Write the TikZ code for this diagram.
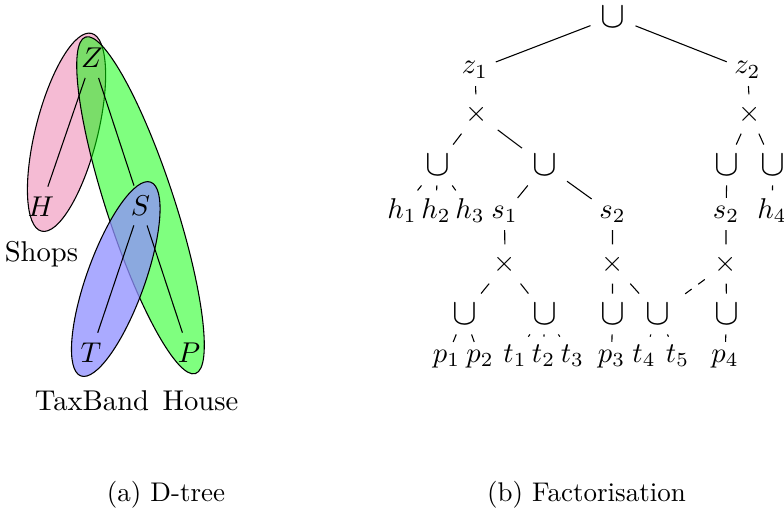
\documentclass[tikz,border=0pt]{standalone}
\usepackage{amsmath}
\usepackage{amssymb}
\usepackage{graphicx}
\usepackage{tikz}
\usetikzlibrary{calc,shapes.geometric,backgrounds}
\definecolor{shopspink}{RGB}{245,187,212}
\definecolor{taxblue}{RGB}{143,143,255}
\newcommand{\ucup}{\scalebox{1.3}{$\cup$}}

\begin{document}
\begin{tikzpicture}[
  every node/.style={scale=1.06},
  lbl/.style={anchor=base, inner sep=2.5pt},
  set/.style={draw, ellipse, inner sep=0pt},
  optional/.style={dashed}
]
\useasboundingbox (0,0) rectangle (10.205,-6.678);

% (a) d-tree
\node (Z) at (1.198,-0.755) {$Z$};
\node (H) at (0.534,-2.688) {$H$};
\node (S) at (1.829,-2.675) {$S$};
\node (T) at (1.185,-4.589) {$T$};
\node (P) at (2.460,-4.589) {$P$};
\node[lbl] (shopslbl) at (0.540,-3.410) {Shops};
\node[lbl] (taxlbl) at (1.198,-5.337) {TaxBand};
\node[lbl] (houselbl) at (2.610,-5.337) {House};
\begin{scope}[on background layer, every node/.style={}]
\node[set, fill=shopspink, minimum width=2.655cm, minimum height=0.807cm, rotate=75.8] (shops) at ($(Z)!0.5!(H)$) {};
\node[set, fill=green, fill opacity=0.5, minimum width=4.608cm, minimum height=0.885cm, rotate=-71.9] (house) at ($(Z)!0.5!(P)$) {};
\node[set, fill=taxblue, fill opacity=0.76, minimum width=2.681cm, minimum height=0.755cm, rotate=70.2] (tax) at ($(S)!0.5!(T)$) {};
\end{scope}
\draw (Z) -- (H);
\draw (Z) -- (S);
\draw (S) -- (T);
\draw (S) -- (P);

% (b) factorisation
\node (root) at (7.979,-0.221) {\ucup};
\node[lbl] (z1) at (6.183,-0.963) {$z_1$};
\node[lbl] (z2) at (9.730,-0.963) {$z_2$};
\node (xa) at (6.203,-1.484) {$\times$};
\node (xb) at (9.763,-1.484) {$\times$};
\node (ua) at (5.695,-2.148) {\ucup};
\node (ub) at (7.088,-2.148) {\ucup};
\node (uc) at (9.463,-2.148) {\ucup};
\node (ud) at (10.062,-2.148) {\ucup};
\node[lbl] (h1) at (5.233,-2.838) {$h_1$};
\node[lbl] (h2) at (5.675,-2.838) {$h_2$};
\node[lbl] (h3) at (6.118,-2.838) {$h_3$};
\node[lbl] (s1) at (6.567,-2.838) {$s_1$};
\node[lbl] (s2) at (7.973,-2.838) {$s_2$};
\node[lbl] (s2b) at (9.450,-2.838) {$s_2$};
\node[lbl] (h4) at (10.049,-2.838) {$h_4$};
\node (xc) at (6.574,-3.436) {$\times$};
\node (xd) at (7.973,-3.436) {$\times$};
\node (xe) at (9.450,-3.436) {$\times$};
\node (ue) at (6.046,-4.087) {\ucup};
\node (uf) at (7.088,-4.087) {\ucup};
\node (ug) at (7.973,-4.087) {\ucup};
\node (uh) at (8.559,-4.087) {\ucup};
\node (ui) at (9.457,-4.087) {\ucup};
\node[lbl] (p1) at (5.812,-4.712) {$p_1$};
\node[lbl] (p2) at (6.248,-4.712) {$p_2$};
\node[lbl] (t1) at (6.704,-4.712) {$t_1$};
\node[lbl] (t2) at (7.075,-4.712) {$t_2$};
\node[lbl] (t3) at (7.452,-4.712) {$t_3$};
\node[lbl] (p3) at (7.960,-4.712) {$p_3$};
\node[lbl] (t4) at (8.383,-4.712) {$t_4$};
\node[lbl] (t5) at (8.819,-4.712) {$t_5$};
\node[lbl] (p4) at (9.437,-4.712) {$p_4$};
\draw (root) -- (z1);
\draw (root) -- (z2);
\draw (z1) -- (xa);
\draw (z2) -- (xb);
\draw (xa) -- (ua);
\draw (xa) -- (ub);
\draw (xb) -- (uc);
\draw (xb) -- (ud);
\draw (ua) -- (h1);
\draw (ua) -- (h2);
\draw (ua) -- (h3);
\draw (ub) -- (s1);
\draw (ub) -- (s2);
\draw (uc) -- (s2b);
\draw (ud) -- (h4);
\draw (s1) -- (xc);
\draw (s2) -- (xd);
\draw (s2b) -- (xe);
\draw (xc) -- (ue);
\draw (xc) -- (uf);
\draw (xd) -- (ug);
\draw (xd) -- (uh);
\draw[optional] (xe) -- (uh);
\draw (xe) -- (ui);
\draw (ue) -- (p1);
\draw (ue) -- (p2);
\draw (uf) -- (t1);
\draw (uf) -- (t2);
\draw (uf) -- (t3);
\draw (ug) -- (p3);
\draw (uh) -- (t4);
\draw (uh) -- (t5);
\draw (ui) -- (p4);

% captions
\begin{scope}[every node/.style={}]
\node[lbl] (capa) at (2.161,-6.522) {(a) D-tree};
\node[lbl] (capb) at (7.634,-6.522) {(b) Factorisation};
\end{scope}
\end{tikzpicture}
\end{document}
